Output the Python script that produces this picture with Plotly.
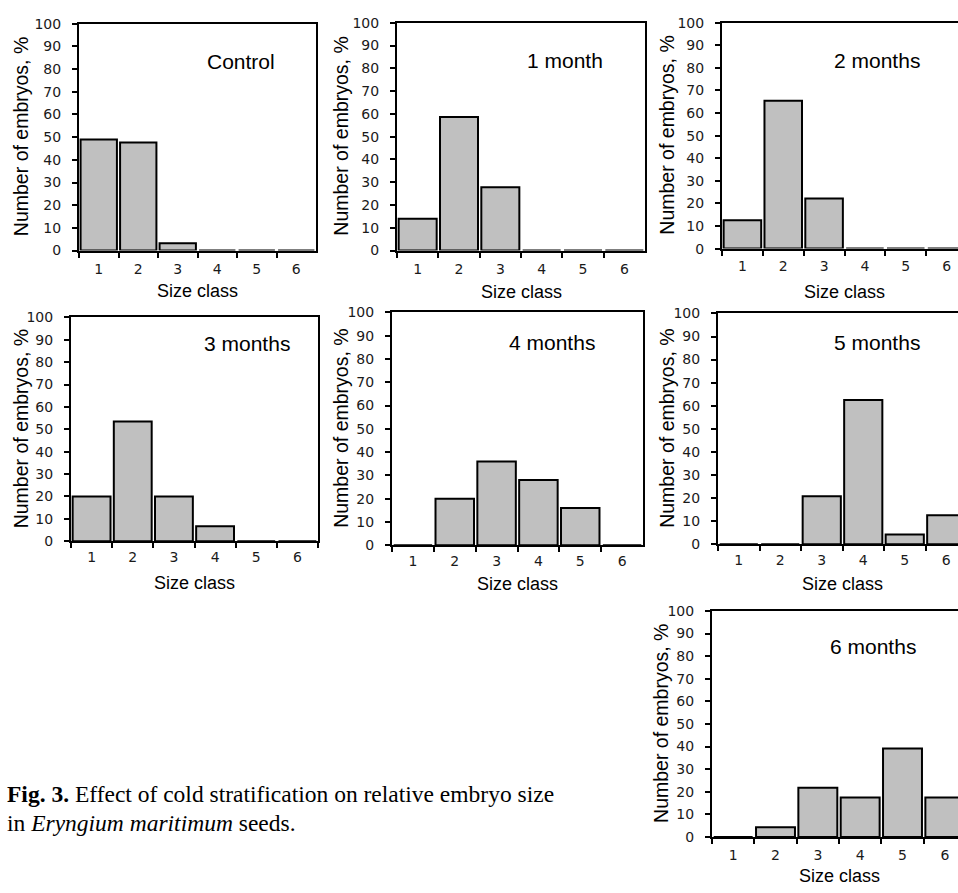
import plotly.graph_objects as go

W, H = 958, 893

size_classes = ["1", "2", "3", "4", "5", "6"]
panel_titles = ["Control", "1 month", "2 months", "3 months", "4 months", "5 months", "6 months"]
control = [49.0, 47.6, 3.2, 0, 0, 0]
month_1 = [14.0, 58.6, 27.8, 0, 0, 0]
month_2 = [12.6, 65.5, 22.2, 0, 0, 0]
month_3 = [20.0, 53.5, 20.0, 6.7, 0, 0]
month_4 = [0, 20.0, 36.0, 28.0, 16.0, 0]
month_5 = [0, 0, 20.8, 62.5, 4.2, 12.5]
month_6 = [0, 4.3, 21.7, 17.4, 39.1, 17.4]
y_ticks = [0, 10, 20, 30, 40, 50, 60, 70, 80, 90, 100]
y_label = "Number of embryos, %"
x_label = "Size class"

series = [control, month_1, month_2, month_3, month_4, month_5, month_6]

# pixel boxes: left, right, top, bottom of each plot area
boxes = [
    (79, 316, 16, 247),
    (397, 645, 15, 247),
    (722, 967, 15, 245),
    (71, 318, 315, 543),
    (392, 643, 310, 547),
    (718, 967, 311, 546),
    (712, 966, 614, 844),
]
title_pos = [(241, 54), (565, 53), (877, 53), (247, 342), (552, 341), (877, 341), (873, 650)]
ytitle_x = [21, 341, 667, 21, 341, 667, 661]
xtitle_y = [288, 289, 289, 585, 587, 587, 884]
x_standoff = [5, 5, 4, 2, 2, 2, 4]

AXIS_FONT = "DejaVu Sans"
TEXT_FONT = "Liberation Sans, Arial"

fig = go.Figure()
annotations = []

for i, (vals, box) in enumerate(zip(series, boxes)):
    n = i + 1
    xa = "x" if n == 1 else f"x{n}"
    ya = "y" if n == 1 else f"y{n}"
    l, r, t, b = box
    cut = r > W
    r_vis = min(r, W)
    x_hi = -0.5 + 6 * (r_vis - l) / (r - l)
    fig.add_trace(go.Bar(
        x=size_classes, y=vals, xaxis=xa, yaxis=ya, width=0.92,
        marker=dict(color="#c0c0c0", line=dict(color="#000000", width=2)),
        showlegend=False, hoverinfo="skip",
    ))
    xkey = "xaxis" if n == 1 else f"xaxis{n}"
    ykey = "yaxis" if n == 1 else f"yaxis{n}"
    fig.layout[xkey] = dict(
        domain=[l / W, r_vis / W], anchor=ya, type="category",
        categoryorder="array", categoryarray=size_classes,
        range=[-0.5, x_hi], tickson="boundaries", ticks="outside",
        ticklen=5, tickwidth=2, tickcolor="#000", showline=True,
        linecolor="#000", linewidth=2, mirror=True, showgrid=False,
        zeroline=False, tickfont=dict(family=AXIS_FONT, size=14, color="#1a1a1a"),
        ticklabelstandoff=x_standoff[i], fixedrange=True,
    )
    fig.layout[ykey] = dict(
        domain=[1 - b / H, 1 - t / H], anchor=xa, range=[0, 100],
        tickvals=y_ticks, ticks="outside", ticklen=5, tickwidth=2,
        tickcolor="#000", showline=True, linecolor="#000", linewidth=2,
        mirror=(not cut), showgrid=False, zeroline=False,
        tickfont=dict(family=AXIS_FONT, size=14, color="#1a1a1a"),
        ticklabelstandoff=8, fixedrange=True,
    )
    tx, ty = title_pos[i]
    annotations.append(dict(
        text=panel_titles[i], x=tx / W, y=1 - ty / H, xref="paper", yref="paper",
        showarrow=False, xanchor="center", yanchor="middle",
        font=dict(family=TEXT_FONT, size=21, color="#000"),
    ))
    annotations.append(dict(
        text=y_label, x=ytitle_x[i] / W, y=1 - ((t + b) / 2) / H, xref="paper", yref="paper",
        showarrow=False, xanchor="center", yanchor="middle", textangle=-90,
        font=dict(family=TEXT_FONT, size=19.5, color="#000"),
    ))
    annotations.append(dict(
        text=x_label, x=((l + r) / 2) / W, y=1 - xtitle_y[i] / H, xref="paper", yref="paper",
        showarrow=False, xanchor="center", yanchor="middle",
        font=dict(family=TEXT_FONT, size=18, color="#000"),
    ))

caption_1 = "<b>Fig. 3.</b> Effect of cold stratification on relative embryo size"
caption_2 = "in <i>Eryngium maritimum</i> seeds."
for text, yy in [(caption_1, 800), (caption_2, 830)]:
    annotations.append(dict(
        text=text, x=5 / W, y=1 - yy / H, xref="paper", yref="paper",
        showarrow=False, xanchor="left", yanchor="middle", align="left",
        font=dict(family="Liberation Serif, Times New Roman", size=23.5, color="#000"),
    ))

fig.update_layout(
    width=W, height=H, margin=dict(l=0, r=0, t=0, b=0),
    paper_bgcolor="#ffffff", plot_bgcolor="#ffffff",
    annotations=annotations, bargap=0.08, showlegend=False,
)

fig.write_html(
    "out.html",
    config={"displayModeBar": False},
    post_script="document.body.style.margin='0';document.body.style.overflow='hidden';",
)
